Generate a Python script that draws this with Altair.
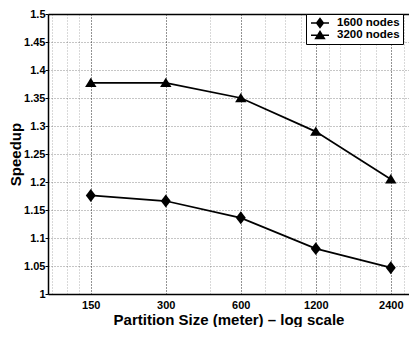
import altair as alt
import pandas as pd

# ---- data ----
sizes = [150, 300, 600, 1200, 2400]
speedup_1600 = [1.176, 1.166, 1.136, 1.081, 1.047]
speedup_3200 = [1.377, 1.377, 1.350, 1.290, 1.205]
series_names = ["1600 nodes", "3200 nodes"]

x_ticks = [150, 300, 600, 1200, 2400]
x_minor = [105, 120, 135, 450, 750, 900, 1050, 1350, 1500, 1800, 2100, 2700]
y_ticks = [1.0, 1.05, 1.1, 1.15, 1.2, 1.25, 1.3, 1.35, 1.4, 1.45, 1.5]
x_domain = [101, 2840]
y_domain = [1.0, 1.5]

FONT = "Liberation Sans"

rows = []
for name, vals in zip(series_names, [speedup_1600, speedup_3200]):
    for s, v in zip(sizes, vals):
        rows.append({"size": s, "speedup": v, "series": name})
df = pd.DataFrame(rows)

# marker shapes (custom paths, unit coords scaled by sqrt(size)/2)
marker_paths = [
    "M0,-1.08L0.83,0L0,1.08L-0.83,0Z",
    "M0,-0.85L0.95,0.7L-0.95,0.7Z",
]
legend_paths = [
    "M-1.5,-0.13L1.5,-0.13L1.5,0.13L-1.5,0.13ZM0,-0.95L0.72,0L0,0.95L-0.72,0Z",
    "M-1.5,-0.08L1.5,-0.08L1.5,0.18L-1.5,0.18ZM0,-0.85L0.95,0.7L-0.95,0.7Z",
]

xscale = alt.Scale(type="log", domain=x_domain, nice=False, zero=False)
yscale = alt.Scale(domain=y_domain, nice=False, zero=False)

y_axis = alt.Axis(
    title="Speedup",
    values=y_ticks,
    format="~g",
    grid=True,
    gridDash=[1, 2],
    gridColor="#000000",
    gridOpacity=0.45,
    gridWidth=1,
    domain=True,
    domainColor="#000000",
    domainWidth=1.5,
    ticks=True,
    tickSize=3,
    tickColor="#000000",
    labelPadding=0,
    labelFont=FONT,
    labelFontSize=11,
    labelFontWeight="bold",
    labelColor="#000000",
    titleFont=FONT,
    titleFontSize=15,
    titleFontWeight="bold",
    titleColor="#000000",
    titlePadding=0,
)

# line layer carries the left axis and the top axis (minor grid + top border)
lines = alt.Chart(df).mark_line(color="black", strokeWidth=1.7).encode(
    x=alt.X(
        "size:Q",
        scale=xscale,
        axis=alt.Axis(
            orient="top",
            values=x_minor,
            labels=False,
            ticks=False,
            title=None,
            grid=True,
            gridDash=[1, 2],
            gridColor="#000000",
            gridOpacity=0.3,
            domain=True,
            domainColor="#000000",
            domainWidth=1.5,
        ),
    ),
    y=alt.Y("speedup:Q", scale=yscale, axis=y_axis),
    detail="series:N",
)

points = alt.Chart(df).mark_point(filled=True, color="black", opacity=1, size=144).encode(
    x=alt.X(
        "size:Q",
        scale=xscale,
        axis=alt.Axis(
            orient="bottom",
            values=x_ticks,
            format="d",
            title="Partition Size (meter) \u2013 log scale",
            grid=True,
            gridDash=[1, 2],
            gridColor="#000000",
            gridOpacity=0.85,
            domain=True,
            domainColor="#000000",
            domainWidth=1.5,
            ticks=False,
            labelPadding=5,
            labelFont=FONT,
            labelFontSize=11,
            labelFontWeight="bold",
            labelColor="#000000",
            titleFont=FONT,
            titleFontSize=15,
            titleFontWeight="bold",
            titleColor="#000000",
            titlePadding=2,
        ),
    ),
    y=alt.Y("speedup:Q", scale=yscale, axis=None),
    shape=alt.Shape(
        "series:N",
        scale=alt.Scale(domain=series_names, range=marker_paths),
        legend=None,
    ),
)

legend_layer = alt.Chart(df).mark_point(
    filled=True, color="black", opacity=0, size=144
).encode(
    x=alt.X("size:Q", scale=xscale, axis=None),
    y=alt.Y("speedup:Q", scale=yscale, axis=None),
    shape=alt.Shape(
        "series:N",
        scale=alt.Scale(domain=series_names, range=legend_paths),
        legend=alt.Legend(
            title=None,
            orient="none",
            legendX=258,
            legendY=0,
            padding=3,
            rowPadding=0,
            strokeColor="#000000",
            fillColor="#ffffff",
            symbolSize=144,
            symbolFillColor="#000000",
            symbolStrokeColor="#000000",
            symbolStrokeWidth=0,
            symbolOpacity=1,
            symbolOffset=5,
            labelOffset=11,
            labelFont=FONT,
            labelFontSize=11.5,
            labelFontWeight="bold",
            labelColor="#000000",
        ),
    ),
)

chart = (
    alt.layer(lines, points, legend_layer)
    .resolve_scale(shape="independent")
    .resolve_axis(x="independent", y="independent")
    .properties(width=361, height=280, padding=0, background="white")
    .configure_view(stroke=None)
)

chart.save("out.html", embed_options={"renderer": "svg", "actions": False})
